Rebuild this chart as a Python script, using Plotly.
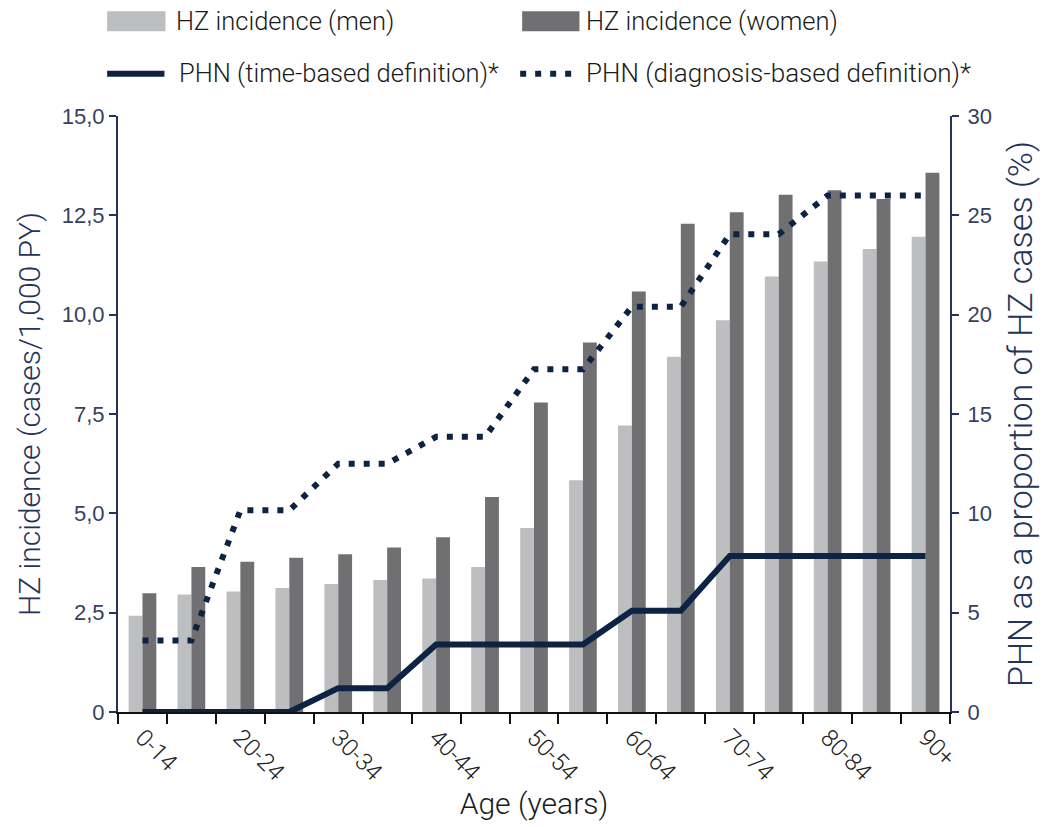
import plotly.graph_objects as go

# ---------------- data ----------------
age_groups = ["0-14", "15-19", "20-24", "25-29", "30-34", "35-39", "40-44", "45-49",
              "50-54", "55-59", "60-64", "65-69", "70-74", "75-79", "80-84", "85-89", "90+"]
hz_men = [2.42, 2.96, 3.03, 3.12, 3.22, 3.32, 3.36, 3.65, 4.63, 5.83, 7.21, 8.94,
          9.86, 10.96, 11.34, 11.65, 11.96]
hz_women = [2.99, 3.65, 3.78, 3.88, 3.97, 4.14, 4.40, 5.41, 7.79, 9.30, 10.58, 12.29,
            12.58, 13.02, 13.13, 12.91, 13.57]
phn_time = [0, 0, 0, 0, 1.2, 1.2, 3.4, 3.4, 3.4, 3.4, 5.1, 5.1, 7.85, 7.85, 7.85, 7.85, 7.85]
phn_diag = [3.6, 3.6, 10.15, 10.15, 12.5, 12.5, 13.85, 13.85, 17.25, 17.25, 20.4, 20.4,
            24.05, 24.05, 26.0, 26.0, 26.0]
series_names = ["HZ incidence (men)", "HZ incidence (women)",
                "PHN (time-based definition)*", "PHN (diagnosis-based definition)*"]
left_ticks = [0, 2.5, 5, 7.5, 10, 12.5, 15]
left_ticktext = ["0", "2,5", "5,0", "7,5", "10,0", "12,5", "15,0"]
right_ticks = [0, 5, 10, 15, 20, 25, 30]

# ---------------- style ----------------
W, H = 1045, 827
# plot area in screen pixels
L, R, T, B = 118, 960, 116, 714
LIGHT = "#bdbec0"
DARK = "#707072"
NAVY = "#0c2344"
AXNAVY = "#23345a"
TICKCOL = "#34425f"
DIN = "Roboto, 'Open Sans', sans-serif"
ARIAL = "'Liberation Sans', Arial, sans-serif"

fig = go.Figure()
fig.add_trace(go.Bar(x=age_groups, y=hz_men, name=series_names[0], marker_color=LIGHT,
                     marker_line_width=0, showlegend=False))
fig.add_trace(go.Bar(x=age_groups, y=hz_women, name=series_names[1], marker_color=DARK,
                     marker_line_width=0, showlegend=False))
fig.add_trace(go.Scatter(x=age_groups, y=phn_time, name=series_names[2], yaxis="y2",
                         mode="lines", line=dict(color=NAVY, width=6), showlegend=False))
fig.add_trace(go.Scatter(x=age_groups, y=phn_diag, name=series_names[3], yaxis="y2",
                         mode="lines", line=dict(color=NAVY, width=6, dash="6px,9px"),
                         showlegend=False))

# ---------------- manual legend ----------------
def px(xpix):
    return (xpix - L) / (R - L)

def py(ypix):
    return (B - ypix) / (B - T)

shapes = [
    dict(type="rect", xref="paper", yref="paper", x0=px(107), x1=px(166), y0=py(31), y1=py(11),
         fillcolor=LIGHT, line_width=0),
    dict(type="rect", xref="paper", yref="paper", x0=px(527), x1=px(585), y0=py(31), y1=py(11),
         fillcolor=DARK, line_width=0),
    dict(type="line", xref="paper", yref="paper", x0=px(107), x1=px(165), y0=py(73.7), y1=py(73.7),
         line=dict(color=NAVY, width=6)),
    dict(type="line", xref="paper", yref="paper", x0=px(525), x1=px(580), y0=py(73.7), y1=py(73.7),
         line=dict(color=NAVY, width=6, dash="6px,9px")),
]
legend_pos = [(175, 21), (590, 21), (178, 73), (590, 73)]
legend_sizes = [25.5, 25.5, 25.5, 26]
annotations = []
for name, (lx, ly), fs in zip(series_names, legend_pos, legend_sizes):
    annotations.append(dict(text=name, xref="paper", yref="paper", x=px(lx), y=py(ly),
                            xanchor="left", yanchor="middle", showarrow=False,
                            font=dict(family=DIN, size=fs, weight=300, color="#1a1a1a")))

fig.update_layout(
    width=W, height=H,
    margin=dict(l=L, r=W - R, t=T, b=H - B, pad=0),
    paper_bgcolor="white", plot_bgcolor="white",
    barmode="group", bargap=0.434, bargroupgap=0,
    showlegend=False,
    shapes=shapes, annotations=annotations,
    xaxis=dict(
        type="category", categoryorder="array", categoryarray=age_groups,
        tickson="boundaries", ticks="outside", ticklen=10, tickwidth=1.5, tickcolor="#111",
        ticklabelstep=2, tickangle=45,
        tickfont=dict(family=DIN, size=24, weight=300, color="#222"),
        showline=True, linecolor="#111", linewidth=2, showgrid=False, zeroline=False,
        title=dict(text="Age (years)", standoff=8,
                   font=dict(family=DIN, size=30, weight=300, color="#1a1a1a")),
    ),
    yaxis=dict(
        range=[0, 15], tickmode="array", tickvals=left_ticks, ticktext=left_ticktext,
        ticks="outside", ticklen=7, tickwidth=2, tickcolor=AXNAVY,
        tickfont=dict(family=ARIAL, size=22, color=TICKCOL),
        showline=True, linecolor=AXNAVY, linewidth=2, showgrid=False, zeroline=False,
        title=dict(text="HZ incidence (cases/1,000 PY)", standoff=12,
                   font=dict(family=DIN, size=30, weight=300, color=AXNAVY)),
    ),
    yaxis2=dict(
        range=[0, 30], overlaying="y", side="right", anchor="x",
        tickmode="array", tickvals=right_ticks,
        ticks="outside", ticklen=7, tickwidth=2, tickcolor=AXNAVY,
        ticklabelstandoff=4,
        tickfont=dict(family=ARIAL, size=22, color=TICKCOL),
        showline=True, linecolor=AXNAVY, linewidth=2, showgrid=False, zeroline=False,
        title=dict(text="PHN as a proportion of HZ cases (%)", standoff=17,
                   font=dict(family=DIN, size=34, weight=300, color=AXNAVY)),
    ),
)

fig.write_html("out.html", config={"displayModeBar": False},
               post_script="document.body.style.margin='0px';document.body.style.overflow='hidden';")
